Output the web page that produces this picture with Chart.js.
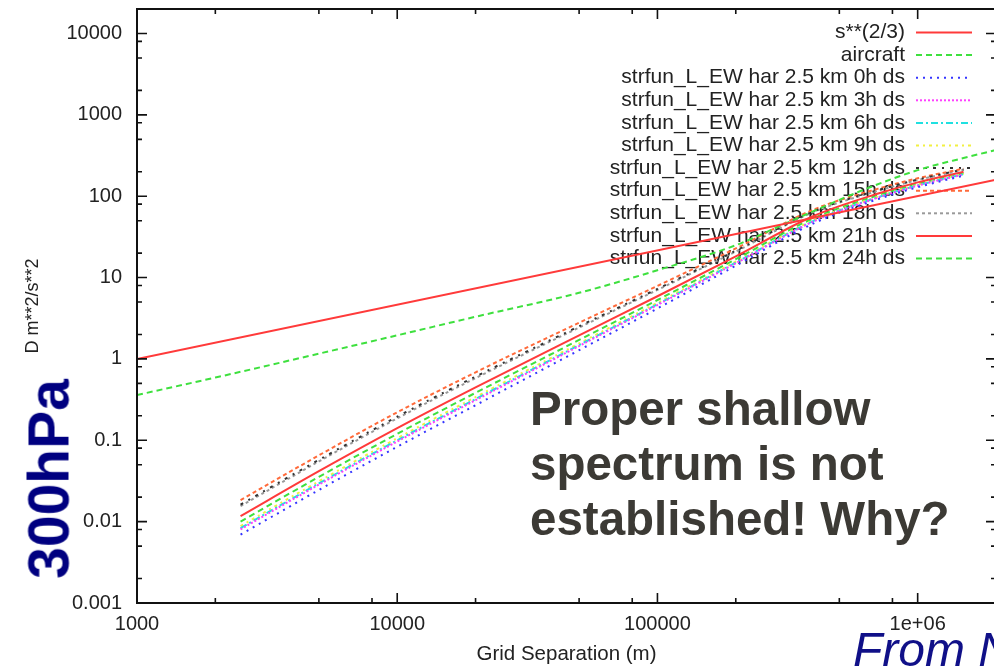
<!DOCTYPE html>
<html>
<head>
<meta charset="utf-8">
<title>Structure function 300hPa</title>
<script src="https://cdn.jsdelivr.net/npm/chart.js@4.4.0/dist/chart.umd.min.js"></script>
<style>
  html, body { margin: 0; padding: 0; background: #fff; overflow: hidden; }
  #wrap { position: relative; width: 998px; height: 670px; }
  .note { position: absolute; font-family: "Liberation Sans", Arial, sans-serif; white-space: nowrap; }
  #level {
    left: 49px; top: 479px; transform: translate(-50%, -50%) rotate(-90deg);
    font-size: 57px; font-weight: bold; line-height: 1; color: #000080;
  }
  #remark {
    left: 530px; top: 381px; font-size: 47.5px; font-weight: bold; line-height: 55px; color: #3c3a35;
  }
  #source {
    left: 853px; top: 626px; font-size: 48px; font-style: italic; line-height: 1; color: #101088;
  }
</style>
</head>
<body>
<div id="wrap">
  <canvas id="sf-chart"></canvas>
  <div class="note" id="level">300hPa</div>
  <div class="note" id="remark">Proper shallow<br>spectrum is not<br>established! Why?</div>
  <div class="note" id="source">From N</div>
</div>
<script>
const FONT = '"Liberation Sans", Arial, sans-serif';

// axis ticks
const xTickValues = [1000, 10000, 100000, 1000000];
const xTickLabels = ["1000", "10000", "100000", "1e+06"];
const yTickValues = [0.001, 0.01, 0.1, 1, 10, 100, 1000, 10000];
const yTickLabels = ["0.001", "0.01", "0.1", "1", "10", "100", "1000", "10000"];

// reference curves
const powerLawX = [1000, 2000000];
const powerLawY = [1, 159];
const aircraftX = [1000, 2000, 5000, 10000, 20000, 50000, 100000, 200000, 300000, 400000, 600000, 1000000, 1500000, 2000000];
const aircraftY = [0.36, 0.59, 1.16, 1.95, 3.3, 6.5, 12.3, 25, 44, 66, 115, 209, 295, 369];

// model structure functions, separation in m
const sepX = [2500, 5000, 10000, 20000, 50000, 100000, 200000, 400000, 700000, 1000000, 1500000];
const sf00h = [0.00692, 0.0245, 0.0832, 0.270, 1.28, 4.17, 14.0, 46.6, 91.4, 129, 179];
const sf03h = [0.00804, 0.0285, 0.0966, 0.311, 1.44, 4.60, 15.0, 49.4, 95.5, 135, 185];
const sf06h = [0.00832, 0.0295, 0.100, 0.321, 1.48, 4.70, 15.3, 50.1, 96.6, 136, 186];
const sf09h = [0.00881, 0.0313, 0.106, 0.340, 1.55, 4.89, 15.7, 51.3, 98.2, 138, 188];
const sf12h = [0.0162, 0.0575, 0.195, 0.607, 2.52, 7.26, 21.4, 65.5, 118, 160, 213];
const sf15h = [0.0184, 0.0653, 0.221, 0.684, 2.79, 7.89, 22.8, 68.9, 123, 166, 218];
const sf18h = [0.0155, 0.0550, 0.186, 0.581, 2.43, 7.05, 20.9, 64.3, 116, 158, 211];
const sf21h = [0.0117, 0.0417, 0.141, 0.447, 1.95, 5.89, 18.2, 57.5, 107, 148, 200];
const sf24h = [0.0100, 0.0355, 0.120, 0.383, 1.71, 5.30, 16.8, 54.0, 102, 142, 193];

function pts(xs, ys) {
  return xs.map((x, i) => ({ x: x, y: ys[i] }));
}

function series(label, xs, ys, color, dash) {
  return {
    label: label,
    data: pts(xs, ys),
    borderColor: color,
    backgroundColor: color,
    borderWidth: 2,
    borderDash: dash,
    pointRadius: 0,
    cubicInterpolationMode: "monotone",
    fill: false
  };
}

const datasets = [
  series("s**(2/3)", powerLawX, powerLawY, "#ff3a3a", []),
  series("aircraft", aircraftX, aircraftY, "#3ee03e", [6, 4]),
  series("strfun_L_EW har 2.5 km 0h ds", sepX, sf00h, "#3535ff", [2, 5]),
  series("strfun_L_EW har 2.5 km 3h ds", sepX, sf03h, "#ff40ff", [2, 2]),
  series("strfun_L_EW har 2.5 km 6h ds", sepX, sf06h, "#20e0e0", [7, 3, 2, 3]),
  series("strfun_L_EW har 2.5 km 9h ds", sepX, sf09h, "#f2f040", [3, 4, 2, 4]),
  series("strfun_L_EW har 2.5 km 12h ds", sepX, sf12h, "#333333", [3, 6, 2, 6]),
  series("strfun_L_EW har 2.5 km 15h ds", sepX, sf15h, "#ff6a3a", [4, 3]),
  series("strfun_L_EW har 2.5 km 18h ds", sepX, sf18h, "#9a9a9a", [3, 3]),
  series("strfun_L_EW har 2.5 km 21h ds", sepX, sf21h, "#ff3a3a", []),
  series("strfun_L_EW har 2.5 km 24h ds", sepX, sf24h, "#3ee03e", [6, 4])
];

// gnuplot style key: right aligned text with a line sample after it
const keyBox = {
  id: "keyBox",
  beforeDatasetsDraw(chart) {
    const ctx = chart.ctx;
    const area = chart.chartArea;
    const textRight = area.right - 91;
    ctx.save();
    ctx.font = "21px " + FONT;
    ctx.textAlign = "right";
    ctx.textBaseline = "middle";
    chart.data.datasets.forEach((ds, i) => {
      const y = area.top + 23.5 + i * 22.6;
      ctx.fillStyle = "#222";
      ctx.fillText(ds.label, textRight, y);
      ctx.strokeStyle = ds.borderColor;
      ctx.lineWidth = 2;
      ctx.setLineDash(ds.borderDash || []);
      ctx.beginPath();
      ctx.moveTo(textRight + 11, y);
      ctx.lineTo(textRight + 67, y);
      ctx.stroke();
    });
    ctx.restore();
  }
};

// log minor ticks at 2, 5 and 8 of each decade, mirrored on all four sides
function tickSet(min, max) {
  const major = [];
  const minor = [];
  for (let e = Math.floor(Math.log10(min)); e <= Math.ceil(Math.log10(max)); e++) {
    const d = Math.pow(10, e);
    if (d >= min && d <= max) major.push(d);
    [2, 5, 8].forEach((m) => {
      if (m * d > min && m * d < max) minor.push(m * d);
    });
  }
  return { major, minor };
}

const frameTicks = {
  id: "frameTicks",
  afterDatasetsDraw(chart) {
    const ctx = chart.ctx;
    const a = chart.chartArea;
    const xs = chart.scales.x;
    const ys = chart.scales.y;
    const xt = tickSet(xs.min, xs.max);
    const yt = tickSet(ys.min, ys.max);
    ctx.save();
    ctx.strokeStyle = "#111";
    ctx.lineWidth = 1.6;
    ctx.setLineDash([]);
    ctx.beginPath();
    xt.major.forEach((v) => {
      const p = xs.getPixelForValue(v);
      ctx.moveTo(p, a.bottom); ctx.lineTo(p, a.bottom - 10);
      ctx.moveTo(p, a.top); ctx.lineTo(p, a.top + 10);
    });
    xt.minor.forEach((v) => {
      const p = xs.getPixelForValue(v);
      ctx.moveTo(p, a.bottom); ctx.lineTo(p, a.bottom - 5);
      ctx.moveTo(p, a.top); ctx.lineTo(p, a.top + 5);
    });
    yt.major.forEach((v) => {
      const p = ys.getPixelForValue(v);
      ctx.moveTo(a.left, p); ctx.lineTo(a.left + 10, p);
      ctx.moveTo(a.right, p); ctx.lineTo(a.right - 10, p);
    });
    yt.minor.forEach((v) => {
      const p = ys.getPixelForValue(v);
      ctx.moveTo(a.left, p); ctx.lineTo(a.left + 5, p);
      ctx.moveTo(a.right, p); ctx.lineTo(a.right - 5, p);
    });
    ctx.stroke();
    ctx.lineWidth = 2;
    ctx.strokeRect(a.left, a.top, a.right - a.left, a.bottom - a.top);
    ctx.restore();
  }
};

const tickFont = { family: FONT, size: 20 };

const ctx = document.getElementById("sf-chart").getContext("2d");
const chart = new Chart(ctx, {
  type: "line",
  data: { datasets: datasets },
  plugins: [keyBox, frameTicks],
  options: {
    responsive: true,
    maintainAspectRatio: false,
    animation: false,
    layout: { padding: { top: 9, right: 2, left: 0, bottom: 0 } },
    plugins: {
      legend: { display: false },
      tooltip: { enabled: false }
    },
    scales: {
      x: {
        type: "logarithmic",
        min: 1000,
        max: 2000000,
        grid: { display: false, drawTicks: false },
        border: { display: false },
        afterBuildTicks: (s) => { s.ticks = xTickValues.map((v) => ({ value: v })); },
        afterFit: (s) => { s.height = 67; s.paddingLeft = 0; s.paddingRight = 0; },
        ticks: {
          autoSkip: false,
          maxRotation: 0,
          padding: 9,
          color: "#222",
          font: tickFont,
          callback: (v, i) => xTickLabels[i]
        },
        title: {
          display: true,
          text: "Grid Separation (m)",
          color: "#222",
          font: { family: FONT, size: 20.5 },
          padding: { top: 0, bottom: 3 }
        }
      },
      y: {
        type: "logarithmic",
        min: 0.001,
        max: 20000,
        grid: { display: false, drawTicks: false },
        border: { display: false },
        afterBuildTicks: (s) => { s.ticks = yTickValues.map((v) => ({ value: v })); },
        afterFit: (s) => { s.width = 137; s.paddingTop = 0; s.paddingBottom = 0; },
        ticks: {
          autoSkip: false,
          padding: 15,
          color: "#222",
          font: tickFont,
          callback: (v, i) => yTickLabels[i]
        },
        title: {
          display: true,
          text: "D m**2/s**2",
          color: "#222",
          font: { family: FONT, size: 18 },
          padding: { top: 22, bottom: 0 }
        }
      }
    }
  }
});
</script>
</body>
</html>
